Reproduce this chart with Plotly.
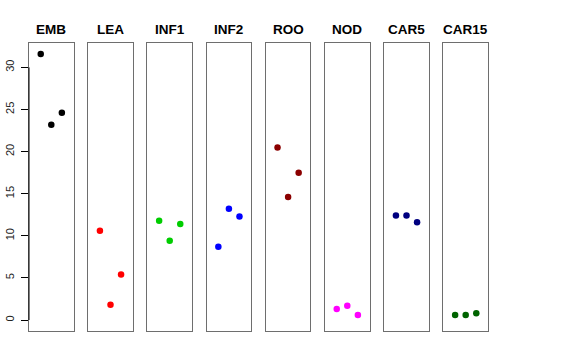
import plotly.graph_objects as go

groups = ["EMB", "LEA", "INF1", "INF2", "ROO", "NOD", "CAR5", "CAR15"]
colors = ["#000000", "#FF0000", "#00CD00", "#0000FF", "#8B0000", "#FF00FF", "#000080", "#006400"]
replicate = [1, 2, 3]
emb = [31.6, 23.2, 24.6]
lea = [10.6, 1.8, 5.4]
inf1 = [11.8, 9.4, 11.4]
inf2 = [8.7, 13.2, 12.3]
roo = [20.5, 14.6, 17.5]
nod = [1.3, 1.7, 0.6]
car5 = [12.4, 12.4, 11.6]
car15 = [0.6, 0.6, 0.8]
values = [emb, lea, inf1, inf2, roo, nod, car5, car15]
y_ticks = [0, 5, 10, 15, 20, 25, 30]

W, H = 576, 360
left0, step, width = 29.0, 59.2, 44.6
top_px, bot_px = 43.3, 330.7
ydom = [1 - bot_px / H, 1 - top_px / H]
yrange = [-1.27, 32.86]
font = "Liberation Sans, Arial, sans-serif"

fig = go.Figure()
layout = dict(
    width=W, height=H,
    margin=dict(l=0, r=0, t=0, b=0, pad=0, autoexpand=False),
    paper_bgcolor="white", plot_bgcolor="white",
    showlegend=False,
    font=dict(family=font, color="black"),
)
annotations = []
shapes = []
for i, (g, c, v) in enumerate(zip(groups, colors, values)):
    n = "" if i == 0 else str(i + 1)
    x0 = (left0 + i * step) / W
    x1 = (left0 + i * step + width) / W
    fig.add_trace(go.Scatter(
        x=replicate, y=v, mode="markers",
        marker=dict(color=c, size=6.5, line=dict(width=0)),
        xaxis="x" + n, yaxis="y" + n, hoverinfo="skip",
    ))
    layout["xaxis" + n] = dict(
        domain=[x0, x1], range=[-0.11, 4.11], anchor="y" + n,
        showgrid=False, zeroline=False, showticklabels=False, ticks="",
        showline=True, mirror=True, linecolor="#6E6E6E", linewidth=1,
        automargin=False,
    )
    ya = dict(
        domain=ydom, range=yrange, anchor="x" + n,
        showgrid=False, zeroline=False,
        showline=True, mirror=True, linecolor="#6E6E6E", linewidth=1,
        automargin=False,
    )
    if i == 0:
        ya.update(
            tickvals=y_ticks, ticktext=[str(t) for t in y_ticks],
            ticks="outside", ticklen=7, tickcolor="black", tickwidth=1,
            tickangle=-90, tickfont=dict(size=11, family=font, color="#222222"),
            ticklabelstandoff=3,
        )
        shapes.append(dict(
            type="line", xref="x domain", yref="y", x0=0, x1=0,
            y0=y_ticks[0], y1=y_ticks[-1], line=dict(color="black", width=1),
        ))
    else:
        ya.update(showticklabels=False, ticks="")
    layout["yaxis" + n] = ya
    annotations.append(dict(
        text="<b>" + g + "</b>", xref="paper", yref="paper",
        x=(x0 + x1) / 2, y=1 - 29.3 / H, xanchor="center", yanchor="middle",
        showarrow=False, font=dict(size=13.5, family=font, color="black"),
    ))
layout["annotations"] = annotations
layout["shapes"] = shapes
fig.update_layout(**layout)
fig.write_html("out.html", config={"displayModeBar": False},
               post_script="document.body.style.margin='0';")
